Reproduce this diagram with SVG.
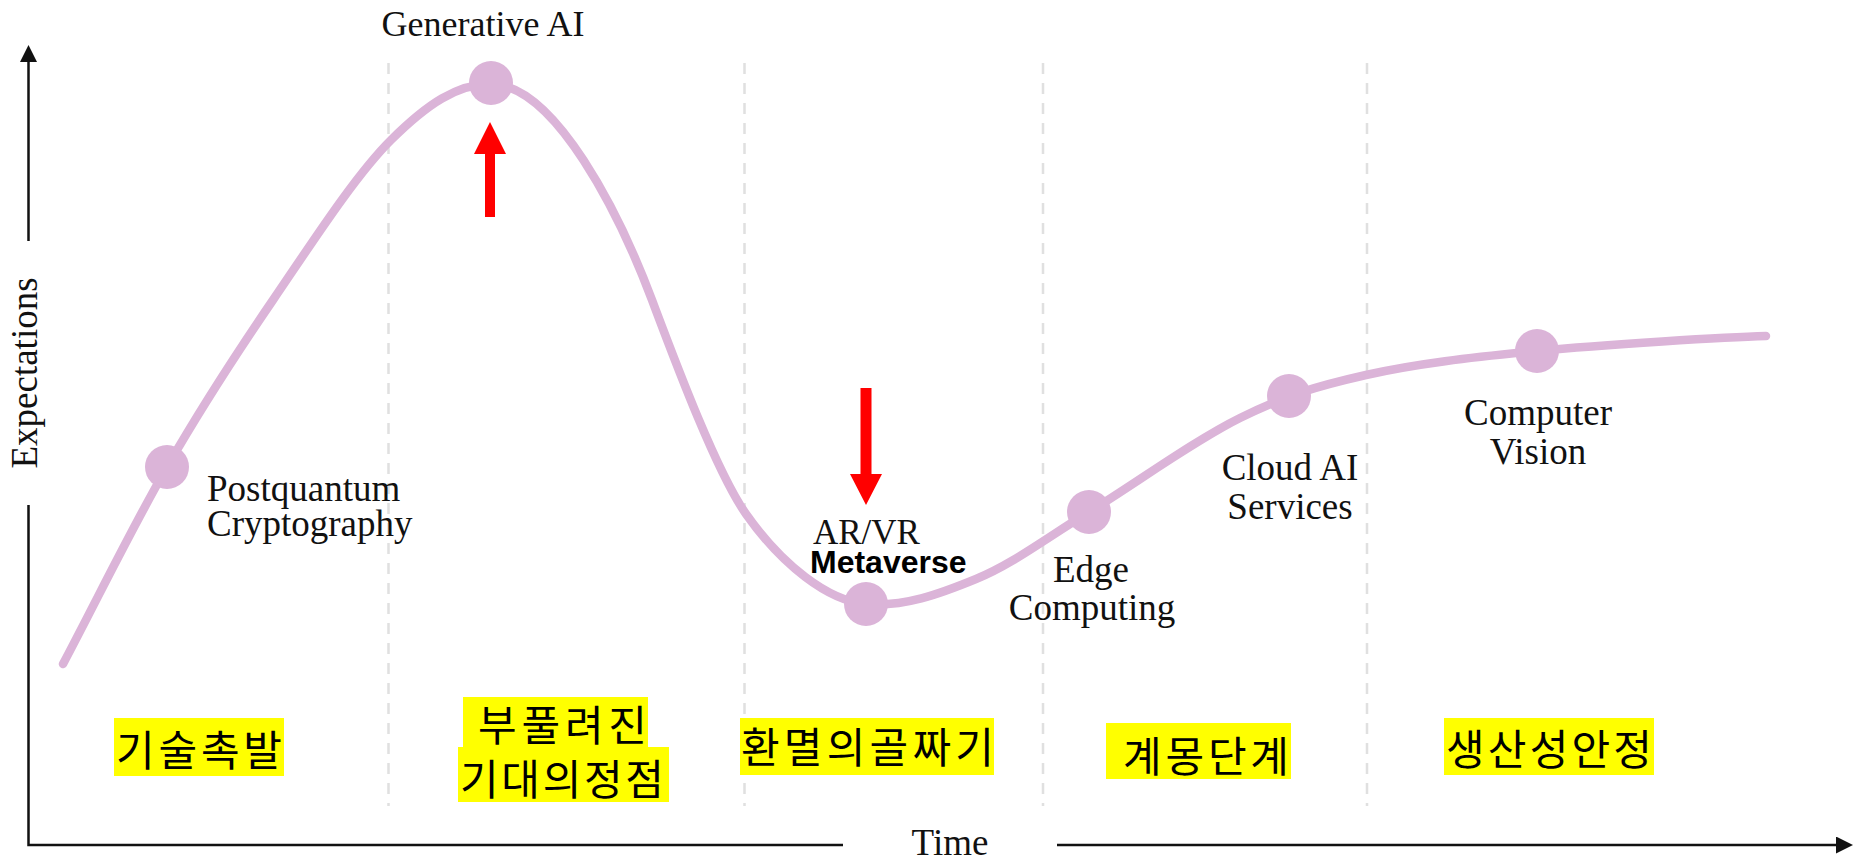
<svg xmlns="http://www.w3.org/2000/svg" width="1866" height="862" viewBox="0 0 1866 862">
  <style>
    .serif { font-family: "Liberation Serif", "Times New Roman", serif; font-size: 37px; fill: #111; }
    .bold { font-family: "Liberation Sans", Arial, sans-serif; font-size: 32px; font-weight: bold; fill: #000; }
    .kr { font-family: "Noto Sans CJK KR", "Noto Sans", sans-serif; font-size: 42px; fill: #000; }
    .hl { fill: #ffff00; }
    .axis { stroke: #111; stroke-width: 2.5; fill: none; }
    .grid { stroke: #e0e0e0; stroke-width: 2.5; stroke-dasharray: 11 9; fill: none; }
    .curve { stroke: #dbb4d8; stroke-width: 8.5; fill: none; stroke-linecap: round; }
    .dot { fill: #dbb4d8; }
    .red { fill: #ff0000; }
  </style>
  <defs>
    <marker id="ah" viewBox="0 0 17 17" refX="12" refY="8.5" markerWidth="17" markerHeight="17" orient="auto" markerUnits="userSpaceOnUse">
      <path d="M0,0 L17,8.5 L0,17 z" fill="#111"/>
    </marker>
  </defs>

  <rect width="1866" height="862" fill="#ffffff"/>

  <g id="grid">
    <line class="grid" x1="388.5" y1="63" x2="388.5" y2="806"/>
    <line class="grid" x1="744.5" y1="63" x2="744.5" y2="806"/>
    <line class="grid" x1="1043" y1="63" x2="1043" y2="806"/>
    <line class="grid" x1="1367" y1="63" x2="1367" y2="806"/>
  </g>

  <g id="axes">
    <line class="axis" x1="28.5" y1="241" x2="28.5" y2="50" marker-end="url(#ah)"/>
    <polyline class="axis" points="28.5,505 28.5,845 843,845"/>
    <line class="axis" x1="1057" y1="845" x2="1848" y2="845" marker-end="url(#ah)"/>
    <text class="serif" transform="translate(37,373) rotate(-90)" text-anchor="middle">Expectations</text>
    <text class="serif" x="950" y="855" text-anchor="middle">Time</text>
  </g>

  <g id="connectors">
    <path class="curve" d="M63,664 C97.7,598.3 132,527.7 167,467 C202,406.3 235.7,354.5 273,300 C310.3,245.5 354.7,176 391,140 C427.3,104 457,84 491,84 C555,84 620,215 652,300 C675,361 716,471 746,514 C781.7,564.7 828,601 866,604 C904,607 938.8,594.3 976,579 C1013.2,563.7 1045,538.8 1089,512 C1133,485.2 1193.8,440.8 1240,418 C1286.2,395.2 1316.5,386.2 1366,375 C1415.5,363.8 1470.3,357.5 1537,351 C1603.7,344.5 1728,337 1766,336"/>
  </g>

  <g id="node-postquantum">
    <circle class="dot" cx="167" cy="467" r="22"/>
    <text class="serif" x="207" y="501">Postquantum</text>
    <text class="serif" x="207" y="536">Cryptography</text>
  </g>

  <g id="node-generative-ai">
    <circle class="dot" cx="491" cy="83" r="22"/>
    <text class="serif" x="483" y="36" text-anchor="middle" style="font-size:36px">Generative AI</text>
    <polygon class="red" points="490,122 506,154 495,154 495,217 485,217 485,154 474,154"/>
  </g>

  <g id="node-arvr">
    <circle class="dot" cx="866" cy="604" r="22"/>
    <text class="serif" x="813" y="544" style="font-size:35px">AR/VR</text>
    <text class="bold" x="810" y="573">Metaverse</text>
    <polygon class="red" points="860.5,388 871.5,388 871.5,474 882,474 866,505 850,474 860.5,474"/>
  </g>

  <g id="node-edge">
    <circle class="dot" cx="1089" cy="512" r="22"/>
    <text class="serif" x="1091" y="582" text-anchor="middle">Edge</text>
    <text class="serif" x="1092" y="620" text-anchor="middle">Computing</text>
  </g>

  <g id="node-cloud">
    <circle class="dot" cx="1289" cy="396" r="22"/>
    <text class="serif" x="1290" y="480" text-anchor="middle">Cloud AI</text>
    <text class="serif" x="1290" y="519" text-anchor="middle">Services</text>
  </g>

  <g id="node-vision">
    <circle class="dot" cx="1537" cy="351" r="22"/>
    <text class="serif" x="1538" y="425" text-anchor="middle">Computer</text>
    <text class="serif" x="1538" y="464" text-anchor="middle">Vision</text>
  </g>

  <g id="phase-trigger">
    <rect class="hl" x="114" y="718" width="170" height="58"/>
    <text class="kr" x="116" y="766" textLength="166" lengthAdjust="spacing">기술촉발</text>
  </g>

  <g id="phase-peak">
    <rect class="hl" x="463" y="697" width="185" height="50"/>
    <rect class="hl" x="458" y="747" width="211" height="55"/>
    <text class="kr" x="478" y="741" textLength="169" lengthAdjust="spacing">부풀려진</text>
    <text class="kr" x="460" y="795" textLength="204" lengthAdjust="spacing">기대의정점</text>
  </g>

  <g id="phase-trough">
    <rect class="hl" x="740" y="718" width="254" height="57"/>
    <text class="kr" x="741" y="763" textLength="253" lengthAdjust="spacing">환멸의골짜기</text>
  </g>

  <g id="phase-slope">
    <rect class="hl" x="1106" y="723" width="185" height="56"/>
    <text class="kr" x="1123" y="772" textLength="166" lengthAdjust="spacing">계몽단계</text>
  </g>

  <g id="phase-plateau">
    <rect class="hl" x="1444" y="718" width="210" height="57"/>
    <text class="kr" x="1446" y="765" textLength="206" lengthAdjust="spacing">생산성안정</text>
  </g>
</svg>
